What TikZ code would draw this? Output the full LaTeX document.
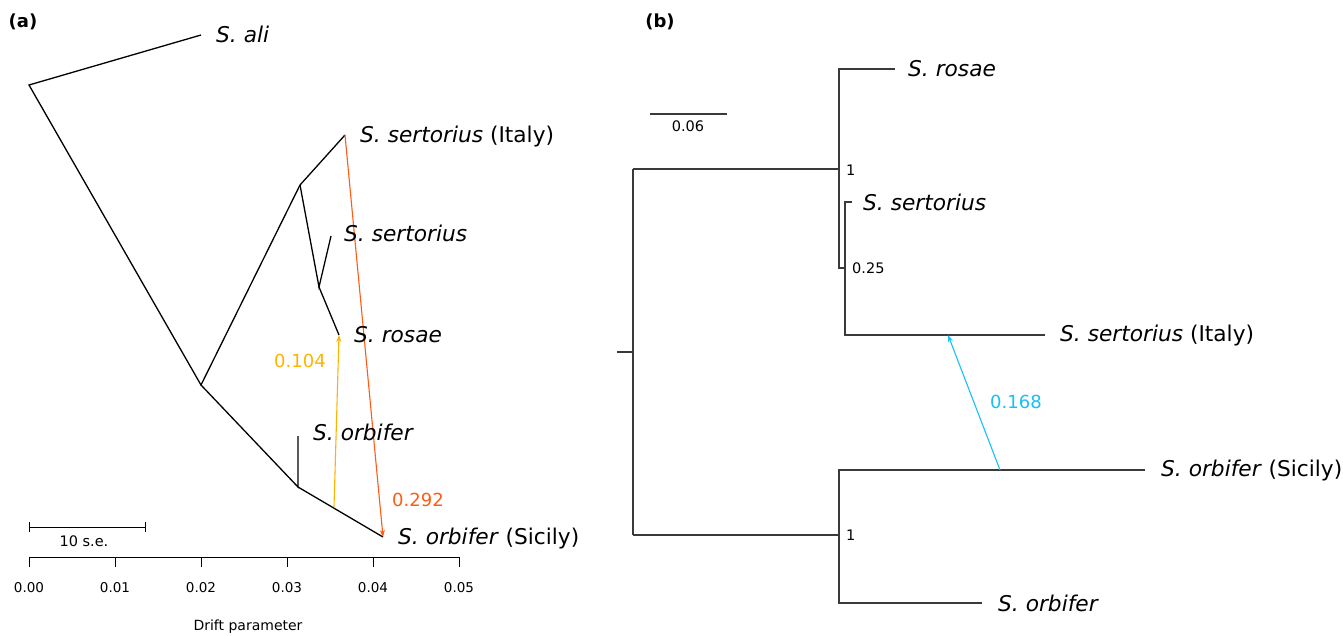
\documentclass[tikz,border=0pt]{standalone}
\usepackage{fontspec}
\setmainfont{DejaVu Sans}
\usetikzlibrary{arrows.meta}
\definecolor{yel}{HTML}{FFB300}
\definecolor{ora}{HTML}{FF5B14}
\definecolor{blu}{HTML}{19BFF5}
\definecolor{grb}{HTML}{3A3A3A}
\begin{document}
\begin{tikzpicture}[x=1pt,y=-1pt,
  tiplab/.style={anchor=west,inner sep=0pt,text height=15.7pt,text depth=0pt,font=\fontsize{21.7}{24}\selectfont},
  small/.style={inner sep=0pt,font=\fontsize{14.5}{17}\selectfont},
  axl/.style={inner sep=0pt,font=\fontsize{13.5}{16}\selectfont},
  mig/.style={inner sep=0pt,font=\fontsize{18}{21}\selectfont},
  panel/.style={inner sep=0pt,font=\fontsize{18}{21}\selectfont\bfseries},
  edgea/.style={line width=1.3pt,black},
  edgeb/.style={line width=1.6pt,grb},
  migarrow/.style={line width=1.1pt,-{Stealth[length=7pt,width=5pt,inset=2pt]}}
]
\useasboundingbox (0,0) rectangle (1343,635);

% ---------- panel (a) ----------
\node[panel] (pa) at (23,22) {(a)};
\coordinate (aroot) at (29,85);
\coordinate (aali) at (201,35);
\coordinate (aA) at (201,385);
\coordinate (aB) at (300,185);
\coordinate (aital) at (345,135);
\coordinate (aC) at (319,287);
\coordinate (asert) at (331,236);
\coordinate (aros) at (339,335);
\coordinate (aD) at (298,487);
\coordinate (aorb) at (298,436);
\coordinate (asic) at (383,537);
\coordinate (ayb) at (334,507);

\draw[edgea] (aali) -- (aroot) -- (aA) -- (aB) -- (aital);
\draw[edgea] (aB) -- (aC) -- (asert);
\draw[edgea] (aC) -- (aros);
\draw[edgea] (aA) -- (aD) -- (aorb);
\draw[edgea] (aD) -- (asic);

\draw[migarrow,yel] (ayb) -- (aros);
\draw[migarrow,ora] (aital) -- (asic);
\node[mig,text=yel] (l104) at (300,361) {0.104};
\node[mig,text=ora] (l292) at (418,500) {0.292};

\node[tiplab] (tali) at (216,35) {\itshape S. ali};
\node[tiplab] (tital) at (360,135) {\textit{S. sertorius} (Italy)};
\node[tiplab] (tsert) at (344,234) {\itshape S. sertorius};
\node[tiplab] (tros) at (354,335) {\itshape S. rosae};
\node[tiplab] (torb) at (313,433) {\itshape S. orbifer};
\node[tiplab] (tsic) at (398,537) {\textit{S. orbifer} (Sicily)};

% scale bar
\coordinate (sb1) at (29,527);
\coordinate (sb2) at (145,527);
\draw[line width=1pt] (sb1) -- (sb2);
\draw[line width=1pt] ([yshift=-5pt]sb1) -- ([yshift=5pt]sb1);
\draw[line width=1pt] ([yshift=-5pt]sb2) -- ([yshift=5pt]sb2);
\node[small] (sblab) at (84,541) {10 s.e.};

% axis
\coordinate (ax0) at (29,557);
\coordinate (ax1) at (459,557);
\draw[line width=1pt] (ax0) -- (ax1);
\foreach \i/\lab in {0/0.00,1/0.01,2/0.02,3/0.03,4/0.04,5/0.05}{
  \coordinate (tk\i) at (29+86*\i,557);
  \draw[line width=1pt] (tk\i) -- ++(0,10);
  \node[axl] (tl\i) at (29+86*\i,588) {\lab};
}
\node[inner sep=0pt,font=\fontsize{14}{16}\selectfont] (axlab) at (248,627) {Drift parameter};

% ---------- panel (b) ----------
\node[panel] (pb) at (660,22) {(b)};
\coordinate (bstub) at (617,352);
\coordinate (broot) at (633,352);
\coordinate (br1) at (633,169);
\coordinate (br2) at (633,535);
\coordinate (bN1) at (839,169);
\coordinate (bN1t) at (839,69);
\coordinate (bN1b) at (839,268);
\coordinate (bN2) at (845,268);
\coordinate (bN2t) at (845,202);
\coordinate (bN2b) at (845,335);
\coordinate (bros) at (895,69);
\coordinate (bsert) at (852,202);
\coordinate (bital) at (1045,335);
\coordinate (bN3) at (839,535);
\coordinate (bN3t) at (839,470);
\coordinate (bN3b) at (839,603);
\coordinate (bsic) at (1145,470);
\coordinate (borb) at (982,603);
\coordinate (bmb) at (1000,470);
\coordinate (bmt) at (948,335);

\draw[edgeb] (bstub) -- (broot);
\draw[edgeb] (br1) -- (br2);
\draw[edgeb] (br1) -- (bN1);
\draw[edgeb] (br2) -- (bN3);
\draw[edgeb] (bros) -- (bN1t) -- (bN1b) -- (bN2);
\draw[edgeb] (bsert) -- (bN2t) -- (bN2b) -- (bital);
\draw[edgeb] (bsic) -- (bN3t) -- (bN3b) -- (borb);

\draw[migarrow,blu] (bmb) -- (bmt);
\node[mig,text=blu] (l168) at (1016,402) {0.168};

\node[small,anchor=west] (s1a) at (846,170) {1};
\node[small,anchor=west] (s025) at (852,268) {0.25};
\node[small,anchor=west] (s1b) at (846,535) {1};

\node[tiplab] (bt1) at (908,69) {\itshape S. rosae};
\node[tiplab] (bt2) at (863,203) {\itshape S. sertorius};
\node[tiplab] (bt3) at (1060,334) {\textit{S. sertorius} (Italy)};
\node[tiplab] (bt4) at (1161,469) {\textit{S. orbifer} (Sicily)};
\node[tiplab] (bt5) at (998,604) {\itshape S. orbifer};

% scale bar b
\coordinate (bs1) at (650,114);
\coordinate (bs2) at (727,114);
\draw[edgeb,line width=1.3pt] (bs1) -- (bs2);
\node[small] (bslab) at (688,126) {0.06};
\end{tikzpicture}
\end{document}
